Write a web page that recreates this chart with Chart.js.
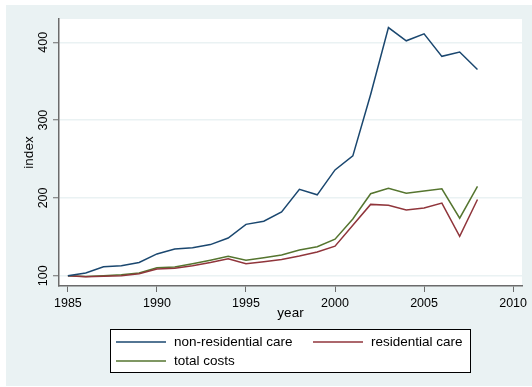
<!DOCTYPE html>
<html>
<head>
<meta charset="utf-8">
<script src="https://cdn.jsdelivr.net/npm/chart.js@4/dist/chart.umd.min.js"></script>
<style>
  html, body { margin: 0; padding: 0; background: #fff; }
  canvas { display: block; }
</style>
</head>
<body>
<canvas id="costChart" width="532" height="387"></canvas>
<script>
const years = [1985, 1986, 1987, 1988, 1989, 1990, 1991, 1992, 1993, 1994, 1995, 1996,
               1997, 1998, 1999, 2000, 2001, 2002, 2003, 2004, 2005, 2006, 2007, 2008];
const nonResidential = [100, 103.5, 111.6, 112.9, 117, 128, 134.3, 136, 140, 148.5, 166, 170,
                        182, 211, 204, 236, 254, 333, 419, 402, 411, 382, 387.5, 365];
const residential = [100, 98.7, 99.2, 100, 102.6, 108.6, 109.5, 112.9, 117, 121.9, 115.4, 118,
                     121, 125.3, 130.5, 138, 165, 191.7, 190.5, 184.5, 187, 193.4, 150.6, 198];
const totalCosts = [100, 99, 100, 101.3, 103.5, 110.3, 111.2, 115.4, 120, 124.9, 119.8, 123,
                    126.6, 133, 137.3, 147, 173, 205.4, 212.3, 206, 208.9, 211.8, 174, 215];
const xTicks = [1985, 1990, 1995, 2000, 2005, 2010];
const yTicks = [100, 200, 300, 400];

const FONT = "'Liberation Sans', Arial, Helvetica, sans-serif";
const REGION = "#eaf2f3";
const AXIS = "#6b6b6b";

function toPoints(values) {
    return years.map((yr, i) => ({ x: yr, y: values[i] }));
}

// light graph region behind a white plot area
const backgroundPlugin = {
    id: "background",
    beforeDraw(chart) {
        const { ctx, chartArea } = chart;
        ctx.save();
        ctx.fillStyle = "#ffffff";
        ctx.fillRect(0, 0, chart.width, chart.height);
        ctx.fillStyle = REGION;
        ctx.fillRect(6, 5, chart.width - 6, 381);
        ctx.fillStyle = "#ffffff";
        ctx.fillRect(chartArea.left, chartArea.top,
                     chartArea.right - chartArea.left, chartArea.bottom - chartArea.top);
        ctx.restore();
    }
};

// vertical y tick labels
const yLabelPlugin = {
    id: "yLabels",
    afterDraw(chart) {
        const { ctx } = chart;
        const y = chart.scales.y;
        ctx.save();
        ctx.fillStyle = "#000";
        ctx.font = "12.5px " + FONT;
        ctx.textAlign = "center";
        ctx.textBaseline = "middle";
        yTicks.forEach(v => {
            ctx.save();
            ctx.translate(43.5, y.getPixelForValue(v));
            ctx.rotate(-Math.PI / 2);
            ctx.fillText(String(v), 0, 0);
            ctx.restore();
        });
        ctx.restore();
    }
};

// boxed legend under the plot, two columns
const legendPlugin = {
    id: "boxLegend",
    afterDraw(chart) {
        const { ctx } = chart;
        const box = { x: 110.5, y: 329.5, w: 360, h: 43 };
        ctx.save();
        ctx.fillStyle = "#fff";
        ctx.fillRect(box.x, box.y, box.w, box.h);
        ctx.strokeStyle = "#000";
        ctx.lineWidth = 1;
        ctx.strokeRect(box.x, box.y, box.w, box.h);

        const slots = [
            { lx: 116, tx: 174, y: 342 },
            { lx: 313, tx: 371, y: 342 },
            { lx: 116, tx: 174, y: 361 }
        ];
        ctx.font = "13.5px " + FONT;
        ctx.textBaseline = "middle";
        chart.data.datasets.forEach((ds, i) => {
            const s = slots[i];
            ctx.strokeStyle = ds.borderColor;
            ctx.lineWidth = 1.5;
            ctx.beginPath();
            ctx.moveTo(s.lx, s.y);
            ctx.lineTo(s.lx + 50, s.y);
            ctx.stroke();
            ctx.fillStyle = "#000";
            ctx.fillText(ds.label, s.tx, s.y);
        });
        ctx.restore();
    }
};

const ctx = document.getElementById("costChart").getContext("2d");
new Chart(ctx, {
    type: "line",
    data: {
        datasets: [
            { label: "non-residential care", data: toPoints(nonResidential), borderColor: "#1a476f" },
            { label: "residential care", data: toPoints(residential), borderColor: "#90353b" },
            { label: "total costs", data: toPoints(totalCosts), borderColor: "#55752f" }
        ]
    },
    options: {
        responsive: false,
        animation: false,
        devicePixelRatio: 1,
        elements: {
            line: { borderWidth: 1.5, tension: 0, fill: false },
            point: { radius: 0 }
        },
        layout: { padding: { left: 0, right: 10, top: 19, bottom: 66 } },
        plugins: {
            legend: { display: false },
            tooltip: { enabled: false }
        },
        scales: {
            x: {
                type: "linear",
                min: 1984.5,
                max: 2010.5,
                afterBuildTicks: scale => { scale.ticks = xTicks.map(v => ({ value: v })); },
                afterFit: scale => { scale.height = 35; },
                grid: { drawOnChartArea: false, tickLength: 6, tickColor: AXIS, tickWidth: 1 },
                border: { color: AXIS, width: 1.5 },
                ticks: {
                    color: "#000",
                    font: { family: FONT, size: 12.5 },
                    padding: 4,
                    maxRotation: 0,
                    callback: v => String(v)
                },
                title: {
                    display: true,
                    text: "year",
                    color: "#000",
                    font: { family: FONT, size: 13.5 },
                    padding: { top: 0, bottom: 0 }
                }
            },
            y: {
                min: 86.8,
                max: 430,
                afterBuildTicks: scale => { scale.ticks = yTicks.map(v => ({ value: v })); },
                afterFit: scale => { scale.width = 59; },
                grid: { color: REGION, lineWidth: 1.5, tickLength: 6, tickColor: AXIS, tickWidth: 1 },
                border: { color: AXIS, width: 1.5 },
                ticks: { display: false },
                title: {
                    display: true,
                    text: "index",
                    color: "#000",
                    font: { family: FONT, size: 13.5 },
                    padding: { top: 21, bottom: 0 }
                }
            }
        }
    },
    plugins: [backgroundPlugin, yLabelPlugin, legendPlugin]
});
</script>
</body>
</html>
